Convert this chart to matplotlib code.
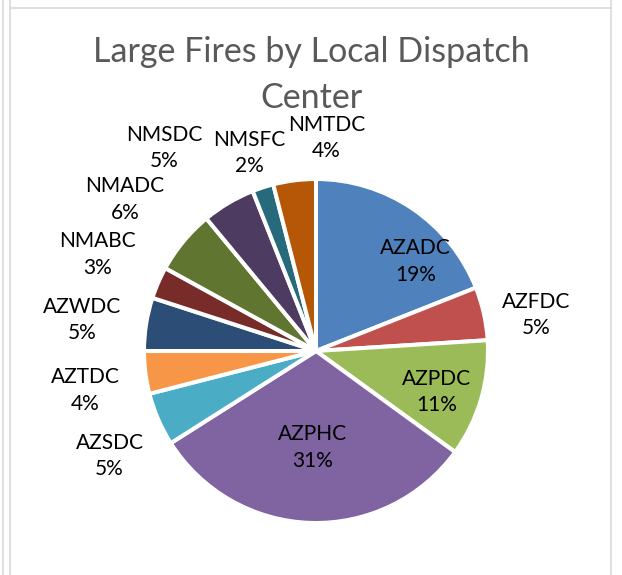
import matplotlib
matplotlib.use('Agg')
import matplotlib.pyplot as plt
from matplotlib.lines import Line2D

# data
centers = ['AZADC', 'AZFDC', 'AZPDC', 'AZPHC', 'AZSDC', 'AZTDC',
           'AZWDC', 'NMABC', 'NMADC', 'NMSDC', 'NMSFC', 'NMTDC']
shares = [19, 5, 11, 31, 5, 4, 5, 3, 6, 5, 2, 4]
colors = ['#4F81BD', '#C0504D', '#9BBB59', '#8064A2', '#4BACC6', '#F79646',
          '#2C4D75', '#772C2A', '#5F7530', '#4D3B62', '#276A7C', '#B65708']
# label spots (pie radius = 1), Excel "best fit" style
label_pos = [(0.58, 0.52), (1.28, 0.21), (0.70, -0.24), (-0.02, -0.56),
             (-1.20, -0.61), (-1.34, -0.23), (-1.36, 0.18), (-1.27, 0.56),
             (-1.11, 0.88), (-0.88, 1.18), (-0.39, 1.15), (0.06, 1.24)]

plt.rcParams['font.family'] = ['Lato', 'DejaVu Sans']

W, H = 622, 575
fig = plt.figure(figsize=(W / 100, H / 100), dpi=100)

# chart frame lines (cropped Excel chart area)
gray = '#d9d9d9'
for x in (2.5 / W, 9.5 / W, 611 / W):
    fig.add_artist(Line2D([x, x], [0, 1], color=gray, lw=1.2, transform=fig.transFigure))
fig.add_artist(Line2D([9.5 / W, 611 / W], [1 - 8 / H, 1 - 8 / H], color=gray, lw=1.2,
                      transform=fig.transFigure))

cx, cy, r = 316, 351, 172
ax = fig.add_axes([(cx - r) / W, (H - cy - r) / H, 2 * r / W, 2 * r / H])
ax.pie(shares, colors=colors, startangle=90, counterclock=False, radius=1,
       wedgeprops=dict(edgecolor='white', linewidth=2.9))
ax.set_xlim(-1, 1)
ax.set_ylim(-1, 1)
ax.axis('off')

for name, v, (lx, ly) in zip(centers, shares, label_pos):
    ax.text(lx, ly, '{}\n{}%'.format(name, v), ha='center', va='center',
            fontsize=15, color='black', linespacing=1.4, clip_on=False)

fig.text(0.5, 1 - 75 / H, 'Large Fires by Local Dispatch\nCenter', ha='center', va='center',
         fontsize=24.5, color='#595959', linespacing=1.5)

fig.savefig('out.png', dpi=100)
